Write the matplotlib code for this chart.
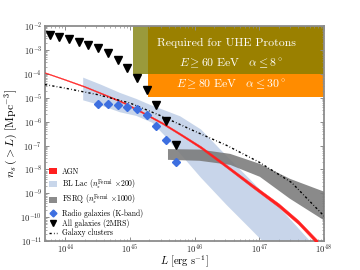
import numpy as np
import matplotlib
matplotlib.use("Agg")
import matplotlib.pyplot as plt
from matplotlib.patches import Patch, Rectangle
from matplotlib.lines import Line2D

plt.rcParams['font.family'] = 'serif'
plt.rcParams['font.serif'] = ['cmr10', 'DejaVu Serif']
plt.rcParams['mathtext.fontset'] = 'cm'
plt.rcParams['axes.formatter.use_mathtext'] = True
plt.rcParams['axes.unicode_minus'] = False

# ---- data (log10 values) ----
gal_logL = [43.76, 43.91, 44.06, 44.21, 44.36, 44.51, 44.66, 44.81, 44.96, 45.11, 45.26, 45.41, 45.56, 45.71]
gal_logn = [-2.37, -2.44, -2.54, -2.66, -2.78, -2.91, -3.15, -3.42, -3.76, -4.17, -4.68, -5.31, -5.98, -6.98]

radio_logL = [44.51, 44.66, 44.81, 44.96, 45.11, 45.26, 45.41, 45.56, 45.71]
radio_logn = [-5.28, -5.28, -5.31, -5.37, -5.49, -5.72, -6.18, -6.76, -7.71]

agn_logL = [43.69, 44.0, 44.3, 44.6, 44.9, 45.2, 45.5, 45.8, 46.1, 46.5, 46.9, 47.3, 47.6, 47.9]
agn_logn = [-3.95, -4.24, -4.53, -4.86, -5.20, -5.62, -6.06, -6.56, -7.08, -7.88, -8.70, -9.50, -10.20, -11.05]
agn_halfwidth = [0.018, 0.02, 0.022, 0.025, 0.028, 0.032, 0.036, 0.042, 0.05, 0.06, 0.07, 0.08, 0.085, 0.09]

bll_logL = [44.28, 44.55, 44.85, 45.1, 45.35, 45.55, 45.78, 46.1, 46.5, 46.85, 47.05, 47.2, 47.5, 47.8]
bll_upper = [-4.16, -4.45, -4.80, -5.05, -5.34, -5.54, -5.78, -6.33, -7.45, -8.40, -8.95, -9.28, -10.15, -11.05]
bll_lower = [-5.11, -5.32, -5.61, -5.76, -6.05, -6.62, -7.35, -8.35, -9.50, -10.45, -11.0, -12.0, -12.0, -12.0]

fsrq_logL = [45.59, 46.08, 46.55, 47.01, 47.47, 48.0]
fsrq_upper = [-7.15, -7.17, -7.35, -7.77, -8.39, -8.93]
fsrq_lower = [-7.60, -7.64, -7.81, -8.31, -9.22, -10.13]

clus_logL = [43.69, 44.0, 44.5, 45.0, 45.5, 46.0, 46.5, 47.0, 47.5, 48.0]
clus_logn = [-4.45, -4.60, -4.87, -5.22, -5.78, -6.40, -7.00, -7.70, -8.55, -9.95]

box_olive_light = (45.05, 45.28, -4.0, -2.0)
box_olive = (45.28, 48.0, -4.0, -2.0)
box_orange = (45.28, 48.0, -4.95, -4.0)

def p10(a):
    return np.power(10.0, np.asarray(a, dtype=float))

fig = plt.figure(figsize=(3.6, 2.7), dpi=100)
ax = fig.add_axes([0.125, 0.107, 0.775, 0.7967])
ax.set_xscale('log')
ax.set_yscale('log')
ax.set_xlim(10**43.69, 1e48)
ax.set_ylim(1e-11, 1e-2)

# boxes
for (x0, x1, y0, y1), col in [(box_olive_light, '#9a9a3c'), (box_olive, '#9a8000'), (box_orange, '#ff8c00')]:
    ax.add_patch(Rectangle((10**x0, 10**y0), 10**x1 - 10**x0, 10**y1 - 10**y0,
                           facecolor=col, edgecolor='none', zorder=1))

ax.text(10**46.5, 10**-2.70, 'Required for UHE Protons', color='white', fontsize=8.5,
        ha='center', va='center', zorder=6)
ax.text(10**46.56, 10**-3.55, r'$E\geq60\ \mathrm{EeV}\quad \alpha\leq8^\circ$', color='white',
        fontsize=8.5, ha='center', va='center', zorder=6)
ax.text(10**46.57, 10**-4.45, r'$E\geq80\ \mathrm{EeV}\quad \alpha\leq30^\circ$', color='white',
        fontsize=8.5, ha='center', va='center', zorder=6)

# BL Lac band
ax.fill_between(p10(bll_logL), p10(bll_upper), p10(bll_lower), facecolor='#9bb4d9',
                alpha=0.55, edgecolor='none', zorder=2)
# FSRQ band
ax.fill_between(p10(fsrq_logL), p10(fsrq_upper), p10(fsrq_lower), facecolor='#7a7a7a',
                alpha=0.88, edgecolor='none', zorder=3)
# AGN band
agn_c = np.asarray(agn_logn)
agn_w = np.asarray(agn_halfwidth)
ax.fill_between(p10(agn_logL), p10(agn_c + agn_w), p10(agn_c - agn_w), facecolor='#ff2020',
                edgecolor='#ff2020', linewidth=0.25, zorder=4)

# clusters
cl_style = (0, (1.6, 1.6, 0.5, 1.6))
ax.plot(p10(clus_logL), p10(clus_logn), color='black', lw=1.0, linestyle=cl_style, zorder=5)

# markers
ax.plot(p10(radio_logL), p10(radio_logn), linestyle='none', marker='D', ms=4.2,
        color='#3d6fe0', mec='#3d6fe0', zorder=6)
ax.plot(p10(gal_logL), p10(gal_logn), linestyle='none', marker='v', ms=5.3,
        color='black', zorder=6)

# axes styling
for s in ax.spines.values():
    s.set_color('#8c8c8c')
    s.set_linewidth(1.3)
ax.tick_params(which='both', direction='in', top=True, right=True, colors='#8c8c8c',
               labelcolor='#222222', labelsize=6.3)
ax.tick_params(axis='x', which='both', pad=1.0)
ax.tick_params(axis='y', which='both', pad=2)
ax.tick_params(which='major', length=3, width=0.7)
ax.tick_params(which='minor', length=1.5, width=0.5)
ax.yaxis.set_major_locator(matplotlib.ticker.LogLocator(base=10, numticks=20))
ax.yaxis.set_minor_locator(matplotlib.ticker.LogLocator(base=10, subs=np.arange(2, 10), numticks=20))

ax.set_xlabel(r'$L\ [\mathrm{erg\ s}^{-1}]$', fontsize=7.6, labelpad=0)
ax.set_ylabel(r'$n_s\,(>L)\ [\mathrm{Mpc}^{-3}]$', fontsize=8.5, labelpad=0)
ax.xaxis.label.set_verticalalignment('center')
ax.xaxis.set_label_coords(0.5, -0.097)
ax.yaxis.set_label_coords(-0.09, 0.5)

handles = [
    Patch(facecolor='#ff2020', edgecolor='none'),
    Patch(facecolor='#c8d6ea', edgecolor='none'),
    Patch(facecolor='#8b8b8b', edgecolor='none'),
    Line2D([], [], linestyle='none', marker='D', ms=3.5, color='#3d6fe0'),
    Line2D([], [], linestyle='none', marker='v', ms=4.5, color='black'),
    Line2D([], [], color='black', lw=1.0, linestyle=cl_style),
]
labels = ['AGN',
          r'BL Lac ($n_s^{\rm Fermi}$ $\times$200)',
          r'FSRQ ($n_s^{\rm Fermi}$ $\times$1000)',
          'Radio galaxies (K-band)',
          'All galaxies (2MRS)',
          'Galaxy clusters']
leg = ax.legend(handles, labels, loc='lower left', frameon=False, fontsize=5.5,
                handlelength=1.1, handleheight=0.8, labelspacing=0.15, handletextpad=0.6,
                borderaxespad=0.2, borderpad=0.3)
leg.set_zorder(7)

fig.savefig('out.png', dpi=100)
